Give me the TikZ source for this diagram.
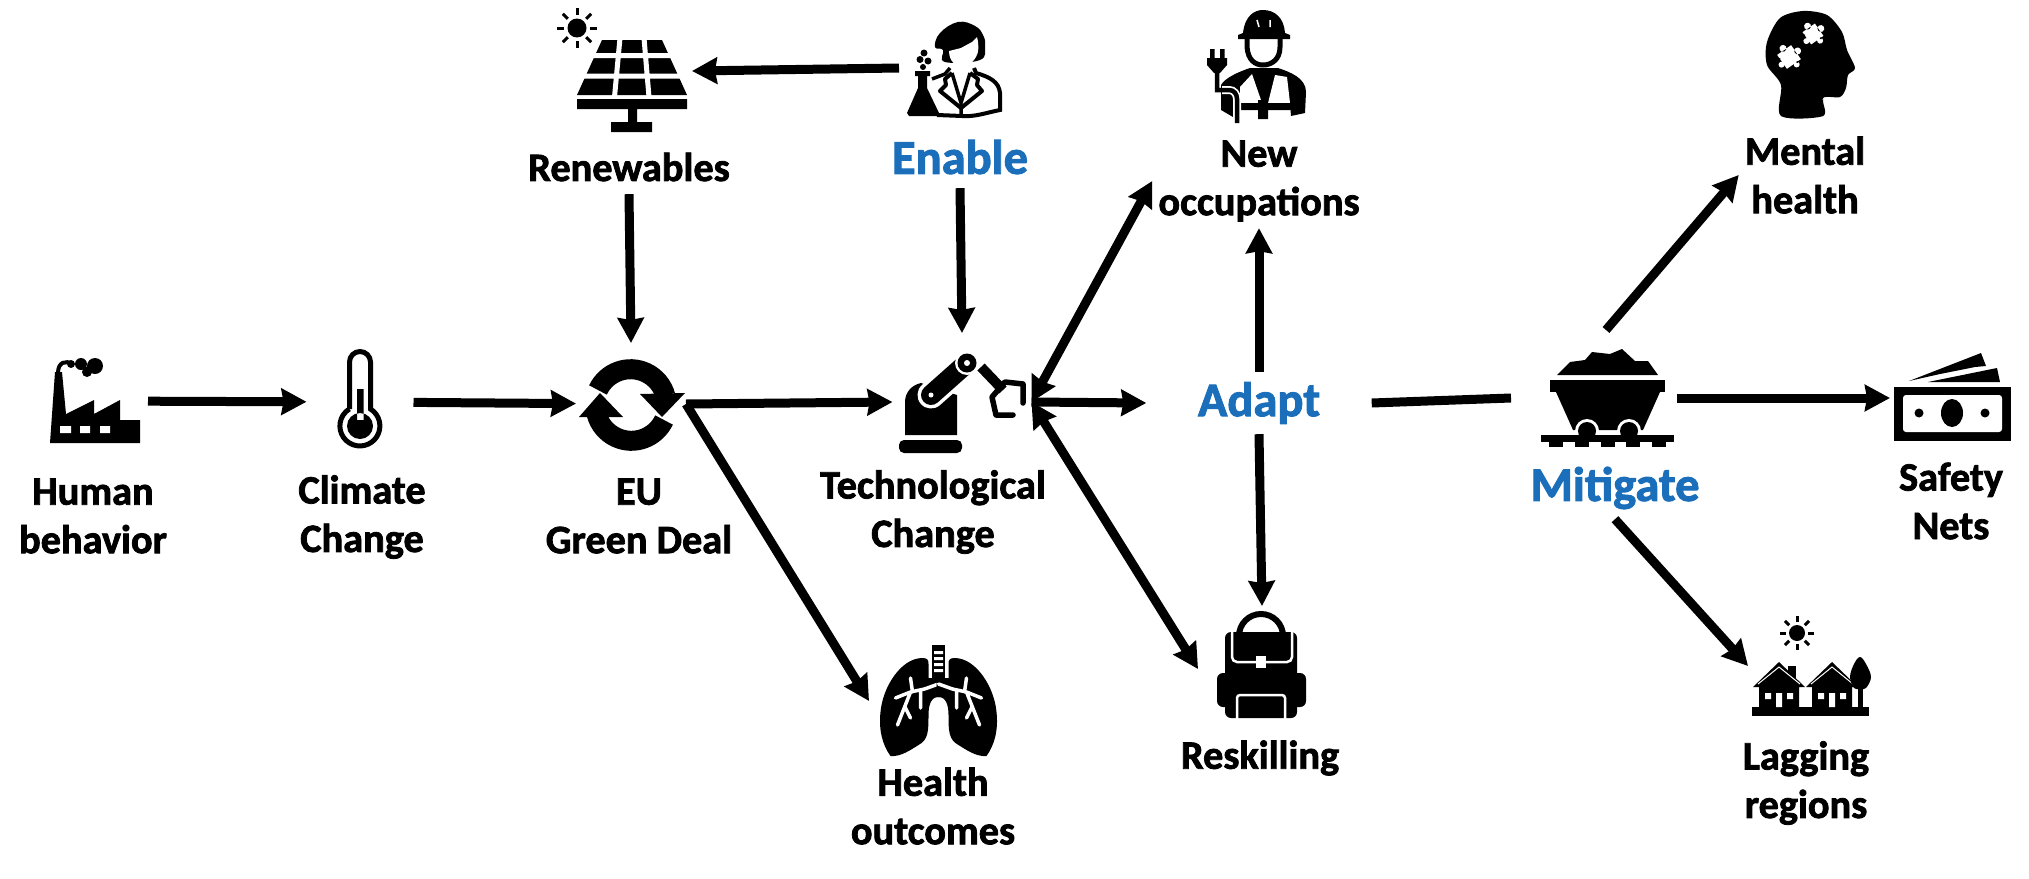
\documentclass[tikz,border=0pt]{standalone}
\usepackage{fontspec}
\usetikzlibrary{arrows.meta}
\newfontfamily\labfont[BoldFeatures={FakeBold=1.9}]{Carlito}
\definecolor{stepblue}{RGB}{27,111,186}

\begin{document}
\begin{tikzpicture}[x=1pt, y=-1pt, >={Stealth[length=25pt,width=26pt,inset=2pt]}]

% --- styles ---
\tikzset{
    lab/.style={font=\labfont\bfseries\fontsize{40.3}{48.5}\selectfont, align=center, inner xsep=6pt, inner ysep=4pt},
    bluelab/.style={font=\labfont\bfseries\fontsize{48.5}{50}\selectfont, text=stepblue, inner sep=0pt, minimum height=62pt},
    icon/.style={inner sep=0pt, outer sep=0pt},
    conn/.style={line width=9pt},
    gap/.style={white, line width=2.5pt}
}

\useasboundingbox (0,0) rectangle (2029,878);

% --- labels ---
\node[lab] (humanlab) at (93,516) {Human\\behavior};
\node[lab] (climatelab) at (362,517) {Climate\\Change};
\node[lab] (greenlab) at (639,516) {EU\\Green Deal};
\node[lab] (techlab) at (933,512) {Technological\\Change};
\node[lab, minimum height=54pt] (renewlab) at (629,167) {Renewables};
\node[bluelab] (enablelab) at (960,157) {Enable};
\node[lab, minimum height=94pt] (newlab) at (1259,181) {New\\occupations};
\node[bluelab, minimum width=225pt] (adaptlab) at (1259,403) {Adapt};
\node[lab] (reskilllab) at (1260,758) {Reskilling};
\node[lab] (healthlab) at (933,806) {Health\\outcomes};
\node[lab] (mentallab) at (1805,175) {Mental\\health};
\node[bluelab] (mitigatelab) at (1615,488) {Mitigate};
\node[lab] (safetylab) at (1951,501) {Safety\\Nets};
\node[lab] (laglab) at (1806,783) {Lagging\\regions};

% --- icon places ---
\node[icon, minimum width=106pt, minimum height=90pt] (factory) at (95,401) {};
\node[icon, minimum width=107pt, minimum height=100pt] (thermo) at (360,402) {};
\node[icon, minimum width=110pt, minimum height=122pt] (recycle) at (631,404) {};
\node[icon, minimum width=120pt, minimum height=100pt] (solar) at (632,71) {};
\node[icon, minimum width=106pt, minimum height=100pt] (chemist) at (952,68) {};
\node[icon, minimum width=139pt, minimum height=138pt] (robot) at (962,402) {};
\node[icon, minimum width=128pt, minimum height=126pt] (backpack) at (1262,669) {};
\node[icon, minimum width=138pt, minimum height=110pt] (lungs) at (938,701) {};
\node[icon, minimum width=166pt, minimum height=136pt] (cart) at (1594,398) {};
\node[icon, minimum width=124pt, minimum height=90pt] (cash) at (1952,398) {};
\node[icon, minimum width=124pt, minimum height=100pt] (village) at (1810,666) {};
\node[icon, minimum width=100pt, minimum height=105pt] (worker) at (1260,65) {};
\node[icon, minimum width=90pt, minimum height=105pt] (brain) at (1810,64) {};

% --- connectors ---
\draw[conn, ->] (factory) -- (thermo);
\draw[conn, ->] (thermo) -- (recycle);
\draw[conn, ->] (renewlab.south) -- (recycle.north);
\draw[conn, ->] (chemist.west) -- (solar.east);
\draw[conn, ->] (enablelab.south) -- (robot.north);
\draw[conn, ->] (recycle.east) -- (robot.west);
\draw[conn, ->] (recycle.east) -- (lungs.west);
\draw[conn, <->] (robot.east) -- (newlab.west);
\draw[conn, <->] (robot.east) -- (backpack.west);
\draw[conn, ->] (robot.east) -- (adaptlab.west);
\draw[conn, ->] (adaptlab.north) -- (newlab.south);
\draw[conn, ->] (adaptlab.south) -- (backpack.north);
\draw[conn] (adaptlab.east) -- (cart.west);
\draw[conn, ->] (cart.80) -- (mentallab.west);
\draw[conn, ->] (cart.east) -- (cash.west);
\draw[conn, ->] (mitigatelab.south) -- (village.west);

% --- factory ---
\fill (50,443) -- (55,372) -- (62,372) -- (66,414) -- (94,400) -- (94,414) -- (120,400) -- (120,420) -- (140,420) -- (140,443) -- cycle;
\fill[white] (60,426) rectangle (71,433) (80,426) rectangle (90,433) (100,426) rectangle (110,433);
\draw[line width=4pt] (58,373) .. controls (58,362) and (66,360) .. (72,364);
\fill (71,364) circle (4) (81,364) circle (6) (95,366) circle (8) (87,372) circle (5);

% --- thermometer ---
\draw[line width=5pt] (349.5,409) -- (349.5,362) arc (180:360:10.5) -- (370.5,409) arc (-58:238:20);
\fill (360,426) circle (13) (357,389) rectangle (363.5,420);

% --- recycle arrows ---
\draw[line width=20pt] (598,390) arc (205:345:36);
\draw[line width=20pt] (664,420) arc (25:165:36);
\fill (640,394) -- (685,393) -- (662,417) -- cycle;
\fill (600,393) -- (579,417) -- (623,417) -- cycle;

% --- solar panel ---
\fill (602,40) -- (662,40) -- (687,95) -- (577,95) -- cycle;
\draw[white, line width=5pt] (590,55.5) -- (675,55.5) (582,76) -- (682,76) (620,38) -- (614.5,97) (644,38) -- (649,97);
\fill (577,99) rectangle (687,109) (628,109) rectangle (637,122) (611,122) rectangle (652,132);
\fill (577,28) circle (9.5);
\foreach \a in {0,45,...,315}
    \draw[line width=3pt] (577,28) ++(\a:13) -- ++(\a:7);

% --- chemist ---
\fill plot[smooth cycle, tension=0.7] coordinates {(958,22) (975,26) (983,35) (985,46) (980,60) (945,62) (943,50) (935,47) (940,33)};
\fill[white] (949,51) -- (961,48) -- (972,42) -- (977,37) .. controls (979,45) and (979,52) .. (976,57) .. controls (971,65) and (966,67) .. (962,67) .. controls (957,67) and (949,62) .. (949,51) -- cycle;
\draw[line width=3.5pt] (932,79) -- (945,74) -- (950,68);
\draw[line width=4pt] (974,68) -- (976,73) .. controls (990,77) and (999,82) .. (1000,93) -- (1000,110) .. controls (985,113) and (975,117) .. (962,116) -- (937,115);
\draw[line width=4pt, line join=round] (952,73) -- (945,79) -- (946,85) -- (940,91) -- (961,108) -- (982,91) -- (977,85) -- (978,79) -- (970,73);
\draw[line width=3.5pt] (952,73) -- (961,103) -- (970,73) (961,105) -- (961,116);
\fill (915,71) -- (930,71) -- (930,76) -- (927,76) -- (927,88) -- (939,113) -- (937,116) -- (909,116) -- (907,113) -- (918,88) -- (918,76) -- (915,76) -- cycle;
\fill (924,53) circle (3.5) (920,59.5) circle (3.5) (928,61) circle (3.5) (923,67) circle (3);

% --- worker ---
\fill (1243,33) .. controls (1245,15) and (1255,10) .. (1263,10) .. controls (1275,10) and (1284,18) .. (1285,33) -- (1290,35) -- (1290,39) -- (1238,39) -- (1238,35) -- cycle;
\draw[white, line width=1.5pt] (1257,20) -- (1259,27) (1270,20) -- (1270,27);
\draw[line width=5pt] (1247,38) -- (1247,47) .. controls (1248,60) and (1255,65) .. (1263,65) .. controls (1271,65) and (1280,60) .. (1280,47) -- (1280,38);
\fill (1221,98) -- (1221,85) .. controls (1225,78) and (1238,72) .. (1250,68) -- (1278,68) .. controls (1290,72) and (1306,78) .. (1306,92) -- (1305,113) -- (1291,116) -- (1290,103) -- (1240,103) -- (1240,98) -- cycle;
\fill (1221,98) -- (1233,98) -- (1233,117) -- (1221,110) -- cycle;
\fill[white] (1240,87) -- (1252,74) -- (1262,103) -- (1240,103) -- cycle (1275,75) -- (1287,77) -- (1290,103) -- (1268,103) -- cycle;
\fill (1240,103) rectangle (1291,110) (1258,100) rectangle (1268,119);
\fill (1210,49) rectangle (1214.5,60) (1220,49) rectangle (1224.5,60);
\fill (1207,58) -- (1227,58) -- (1227,65) -- (1220,73) -- (1214,73) -- (1207,65) -- cycle;
\draw[white, line width=8pt] (1222,90) -- (1229,90) .. controls (1234,90) and (1237,94) .. (1237,99) -- (1237,118);
\draw[line width=4.5pt] (1217,70) -- (1217,90) -- (1229,90) .. controls (1234,90) and (1237,94) .. (1237,99) -- (1237,123);

% --- head with puzzle pieces ---
\fill plot[smooth cycle, tension=0.5] coordinates {(1803,11) (1827,15) (1842,32) (1847,50) (1855,68) (1848,75) (1846,88) (1840,97) (1823,98) (1823,116) (1781,116) (1781,85) (1767,65) (1767,42) (1780,18)};
\fill (1823,98) rectangle (1823,116) (1781,100) rectangle (1823,116);
\foreach \cx/\cy/\sz in {1789/57/8.5, 1813/34/7.5}{
    \begin{scope}[shift={(\cx,\cy)}, rotate=35]
        \fill[white] (-\sz,-\sz) rectangle (\sz,\sz) (\sz+2,0) circle (3.5) (0,-\sz-2) circle (3.5);
        \fill[white] (-\sz-2,2) circle (3) (2,\sz+2) circle (3);
        \fill (-\sz-0.5,-4) circle (1.2) (4,\sz+0.5) circle (1.2);
    \end{scope}
}

% --- robot arm ---
\fill[rounded corners=5pt] (899,440) rectangle (962,453);
\fill (905,435) -- (905,402) .. controls (905,392) and (912,385) .. (921,383) -- (957,395) -- (957,435) -- cycle;
\draw[white, line width=27pt, line cap=round] (931,395) -- (967,363);
\draw[line width=20pt, line cap=round] (931,395) -- (967,363);
\fill[white] (931,395) circle (2.5);
\fill[white] (967,363) circle (12);
\fill (967,363) circle (9.5);
\fill[white] (967,363) circle (3);
\draw[line width=10pt] (981,367) -- (1003,390);
\draw[line width=5.5pt, line join=round, line cap=round] (1023,403) -- (1023,384) -- (1005,382) -- (992,397) -- (996,415) -- (1013,415);

% --- backpack ---
\draw[line width=6pt] (1239,636) arc (180:360:22);
\fill[rounded corners=6pt] (1225,632) rectangle (1297,718);
\fill[rounded corners=6pt] (1217,673) rectangle (1306,707);
\draw[gap, rounded corners=5pt] (1232,632) -- (1232,662) -- (1292,662) -- (1292,632);
\fill[white] (1256,656) rectangle (1266,668);
\draw[gap, rounded corners=3pt] (1237,719) -- (1237,695) -- (1285,695) -- (1285,719);

% --- lungs ---
\fill (932,645) rectangle (945,682);
\fill[white] (934,651) rectangle (943,654) (934,657) rectangle (943,660) (934,663) rectangle (943,666) (934,669) rectangle (943,672);
\foreach \mx in {1,-1}{
    \begin{scope}[shift={(938.5,0)}, xscale=\mx]
        \fill (-16,658) .. controls (-11,658) and (-10,660) .. (-10,664) -- (-10,678) -- (2,678) -- (2,697) -- (0,697) .. controls (-7,697) and (-10,704) .. (-10,715) .. controls (-10,730) and (-10,740) .. (-20,745) .. controls (-28,750) and (-38,757) .. (-48,756) .. controls (-56,745) and (-60,730) .. (-58,712) .. controls (-56,688) and (-38,658) .. (-16,658) -- cycle;
        \draw[white, line width=3.5pt, line cap=round, line join=round] (0,684) -- (-14,689) -- (-28,692) -- (-43,698) (-28,678) -- (-26,692) (-18,691) -- (-18,708) (-28,692) -- (-41,725) (-34,706) -- (-28,718);
    \end{scope}
}

% --- mine cart ---
\fill (1557,375) -- (1570,362) -- (1585,360) -- (1592,352) -- (1610,354) -- (1622,349) -- (1635,361) -- (1648,361) -- (1658,375) -- cycle;
\fill (1550,380) rectangle (1665,392);
\fill (1556,392) -- (1660,392) -- (1643,430) -- (1573,430) -- cycle;
\foreach \wx in {1587,1629}{
    \fill[white] (\wx,431) circle (12);
    \fill (\wx,431) circle (9);
}
\fill (1541,435) rectangle (1674,442);
\foreach \sx in {1549,1575,1601,1626,1652}
    \fill (\sx,442) rectangle ++(14,5);

% --- money ---
\fill (1894,387) rectangle (2011,441);
\fill[white, rounded corners=3pt] (1903,395) rectangle (2002,432);
\fill (1952,413) ellipse (11 and 14) (1919,413) circle (4.5) (1985,413) circle (4.5);
\fill (1909,381) -- (1981,353) -- (1986,366) -- (1975,367) -- (1940,374) -- cycle;
\fill (1928,382) -- (1997,368) -- (2000,382) -- cycle;

% --- houses ---
\fill (1752,707) rectangle (1869,716);
\fill (1797,633) circle (8);
\foreach \a in {0,45,...,315}
    \draw[line width=3pt] (1797,633) ++(\a:11) -- ++(\a:6);
\fill (1788,666) rectangle (1796,682);
\foreach \hx in {1779,1832}{
    \fill (\hx,662) -- ++(26,25) -- ++(-6,0) -- ++(0,22) -- ++(-40,0) -- ++(0,-22) -- ++(-6,0) -- cycle;
    \draw[white, line width=1pt] (\hx-21,684) -- (\hx,667) -- (\hx+21,684);
    \fill[white] (\hx-14,693) rectangle ++(6,6) (\hx+8,693) rectangle ++(6,6) (\hx-3,693) rectangle ++(6,14);
}
\fill plot[smooth cycle, tension=0.6] coordinates {(1860,657) (1866,664) (1871,677) (1866,688) (1860,689) (1854,688) (1850,677) (1854,664)};
\fill (1858,685) rectangle (1863,708);
\end{tikzpicture}
\end{document}
